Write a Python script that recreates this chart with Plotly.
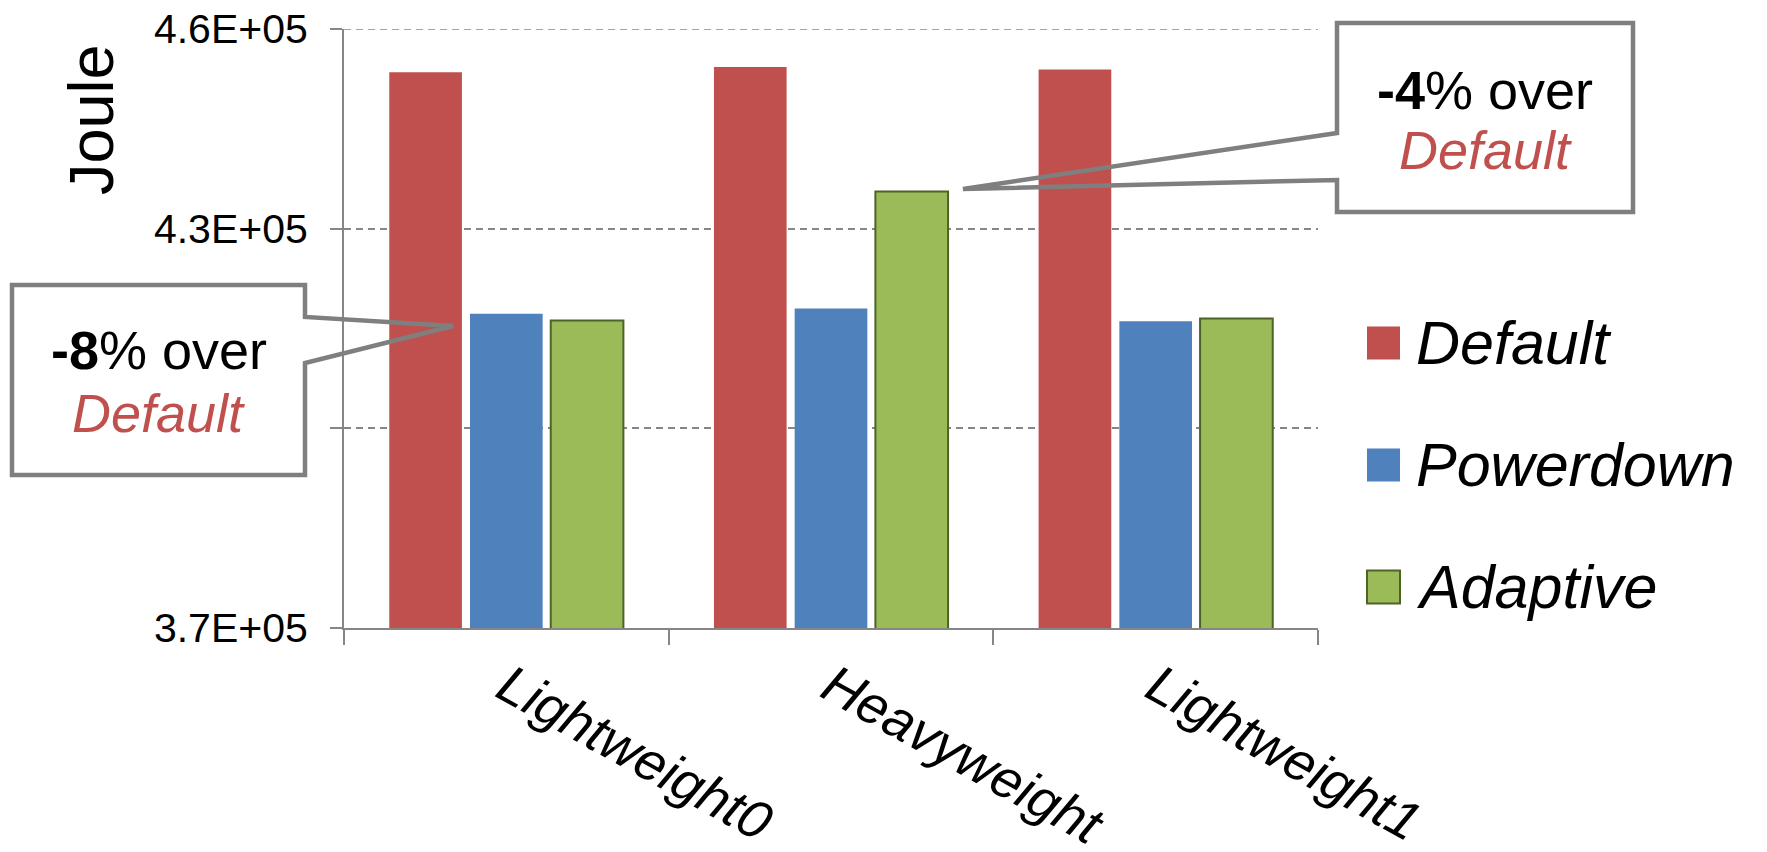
import plotly.graph_objects as go

# ---- data -------------------------------------------------------------
categories = ["Lightweight0", "Heavyweight", "Lightweight1"]
series_names = ["Default", "Powerdown", "Adaptive"]
default_joule = [453500, 454300, 453900]
powerdown_joule = [417200, 418000, 416100]
adaptive_joule = [416200, 435600, 416500]
y_tick_vals = [370000, 400000, 430000, 460000]
y_tick_text = ["3.7E+05", "", "4.3E+05", "4.6E+05"]  # 4.0E+05 sits under the callout box

# ---- style ------------------------------------------------------------
FONT = "Liberation Sans, Arial, sans-serif"
RED, BLUE, GREEN = "#C0504D", "#4F81BD", "#9BBB59"
GREEN_EDGE = "#4F6228"
AXIS_GRAY = "#868686"
CALLOUT_GRAY = "#7F7F7F"

W, H = 1767, 852
ML, MR, MT, MB = 344, 449, 29, 224
PLOT_L, PLOT_R, PLOT_T, PLOT_B = ML, W - MR, MT, H - MB


def px(x):
    return (x - PLOT_L) / (PLOT_R - PLOT_L)


def py(y):
    return (PLOT_B - y) / (PLOT_B - PLOT_T)


fig = go.Figure()
fig.add_trace(go.Bar(name=series_names[0], x=categories, y=default_joule,
                     marker=dict(color=RED, line=dict(width=0))))
fig.add_trace(go.Bar(name=series_names[1], x=categories, y=powerdown_joule,
                     marker=dict(color=BLUE, line=dict(width=0))))
fig.add_trace(go.Bar(name=series_names[2], x=categories, y=adaptive_joule,
                     marker=dict(color=GREEN, line=dict(color=GREEN_EDGE, width=2))))

shapes = []
annotations = []

# dashed gridline along the top edge of the plot area
shapes.append(dict(type="line", xref="paper", yref="y", x0=0, x1=1,
                   y0=y_tick_vals[-1], y1=y_tick_vals[-1],
                   line=dict(color=AXIS_GRAY, width=1.5, dash="7px,5px"),
                   layer="below"))

# ---- legend (large swatches) ----------------------------------------------
legend_rows = [(series_names[0], RED, None, 343),
               (series_names[1], BLUE, None, 465),
               (series_names[2], GREEN, GREEN_EDGE, 587)]
for name, fill, edge, cy in legend_rows:
    shapes.append(dict(type="rect", xref="paper", yref="paper",
                       x0=px(1367), x1=px(1400), y0=py(cy + 16.5), y1=py(cy - 16.5),
                       fillcolor=fill,
                       line=dict(color=edge if edge else fill, width=2 if edge else 0),
                       layer="above"))
    annotations.append(dict(xref="paper", yref="paper", x=px(1414), y=py(cy),
                            xanchor="left", yanchor="middle", showarrow=False,
                            text=name,
                            font=dict(family=FONT, size=61, color="black", style="italic")))

# ---- callouts -----------------------------------------------------------
pct_lw0 = round((adaptive_joule[0] / default_joule[0] - 1) * 100)
pct_hw = round((adaptive_joule[1] / default_joule[1] - 1) * 100)


def callout(box, notch_side, notch_y0, notch_y1, tip, line1_y, line2_y, pct):
    x0, y0, x1, y1 = box
    shapes.append(dict(type="rect", xref="paper", yref="paper",
                       x0=px(x0), x1=px(x1), y0=py(y1), y1=py(y0),
                       fillcolor="white", line=dict(width=0), layer="above"))
    if notch_side == "right":
        pts = [(x0, y0), (x1, y0), (x1, notch_y0), tip, (x1, notch_y1),
               (x1, y1), (x0, y1)]
    else:
        pts = [(x0, y0), (x1, y0), (x1, y1), (x0, y1), (x0, notch_y1), tip,
               (x0, notch_y0)]
    path = "M" + " L".join(f"{px(a):.5f},{py(b):.5f}" for a, b in pts) + " Z"
    shapes.append(dict(type="path", xref="paper", yref="paper", path=path,
                       line=dict(color=CALLOUT_GRAY, width=4.5), layer="above"))
    cx = (x0 + x1) / 2
    annotations.append(dict(xref="paper", yref="paper", x=px(cx), y=py(line1_y),
                            xanchor="center", yanchor="middle", showarrow=False,
                            text=f"<b>{pct}</b>% over",
                            font=dict(family=FONT, size=54, color="black")))
    annotations.append(dict(xref="paper", yref="paper", x=px(cx), y=py(line2_y),
                            xanchor="center", yanchor="middle", showarrow=False,
                            text="Default",
                            font=dict(family=FONT, size=54, color=RED, style="italic")))


callout((12, 285, 305, 475), "right", 317, 363, (453, 326), 350, 413, pct_lw0)
callout((1337, 23, 1633, 212), "left", 133, 180, (963, 189), 90, 150, pct_hw)

# ---- y axis title -------------------------------------------------------
annotations.append(dict(xref="paper", yref="paper", x=px(91), y=py(120),
                        xanchor="center", yanchor="middle", showarrow=False,
                        text="Joule", textangle=-90,
                        font=dict(family=FONT, size=63, color="black")))

fig.update_layout(
    width=W, height=H,
    margin=dict(l=ML, r=MR, t=MT, b=MB, pad=0),
    paper_bgcolor="white", plot_bgcolor="white",
    barmode="group", bargap=0.254, bargroupgap=0.1,
    showlegend=False,
    font=dict(family=FONT, color="black"),
    shapes=shapes, annotations=annotations,
)

fig.update_xaxes(
    type="category", range=[-0.5, 2.5], automargin=False,
    showline=True, linecolor=AXIS_GRAY, linewidth=2,
    ticks="outside", tickson="boundaries", ticklen=15, tickwidth=2, tickcolor=AXIS_GRAY,
    showgrid=False, tickangle=29,
    tickfont=dict(family=FONT, size=54, color="black", style="italic"),
    ticklabelstandoff=4,
)

fig.update_yaxes(
    range=[370000, 460000], automargin=False,
    tickmode="array", tickvals=y_tick_vals, ticktext=y_tick_text,
    showline=True, linecolor=AXIS_GRAY, linewidth=2,
    ticks="outside", ticklen=12, tickwidth=2, tickcolor=AXIS_GRAY,
    showgrid=True, gridcolor=AXIS_GRAY, gridwidth=1.5, griddash="7px,5px",
    zeroline=False,
    tickfont=dict(family=FONT, size=41, color="black"),
    ticklabelstandoff=14,
)

fig.write_html("out.html")
